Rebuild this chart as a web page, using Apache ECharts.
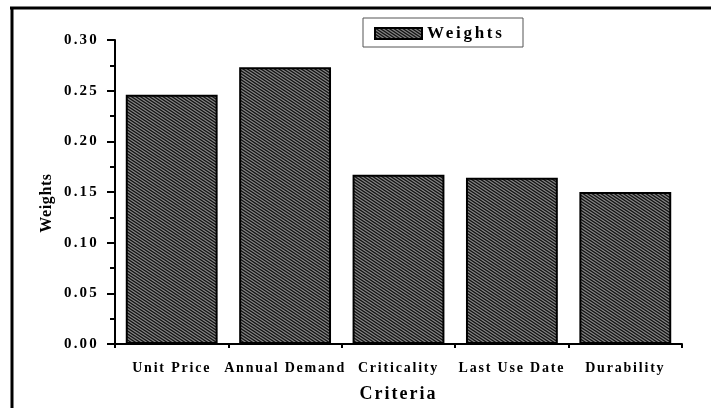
<!DOCTYPE html>
<html>
<head>
<meta charset="utf-8">
<script src="https://cdn.jsdelivr.net/npm/echarts@6/dist/echarts.min.js"></script>
<style>
  html, body { margin: 0; padding: 0; background: #fff; }
  #chart { width: 711px; height: 408px; }
</style>
</head>
<body>
<div id="chart"></div>
<script>
// data
var criteria = ['Unit Price', 'Annual Demand', 'Criticality', 'Last Use Date', 'Durability']
var weights = [0.246, 0.273, 0.167, 0.164, 0.150]
var seriesName = 'Weights'

var serif = 'Liberation Serif'

// the original prints its texts with wide letter spacing (per font size)
var spacingBySize = { '14px': '1.8px', '15px': '2.2px', '16px': '0.6px', '17px': '2.7px', '18px': '2px' }
var origFillText = CanvasRenderingContext2D.prototype.fillText
CanvasRenderingContext2D.prototype.fillText = function () {
  var f = this.font || ''
  var sp = '0px'
  for (var k in spacingBySize) {
    if (f.indexOf(k) >= 0) sp = spacingBySize[k]
  }
  this.letterSpacing = sp
  return origFillText.apply(this, arguments)
}

// hatch fill: gray with dark diagonal lines
function makeHatch() {
  var w = 9, h = 6
  var c = document.createElement('canvas')
  c.width = w
  c.height = h
  var g = c.getContext('2d')
  g.fillStyle = '#858585'
  g.fillRect(0, 0, w, h)
  g.strokeStyle = '#111'
  g.lineWidth = 1.3
  for (var k = -3; k <= 2; k++) {
    var off = k * 3
    g.beginPath()
    g.moveTo(-1, off - 2 / 3)
    g.lineTo(w + 1, off + h + 2 / 3)
    g.stroke()
  }
  return { image: c, repeat: 'repeat' }
}
var hatch = makeHatch()

var myChart = echarts.init(document.getElementById('chart'), null, { renderer: 'canvas' })

var option = {
  animation: false,
  backgroundColor: '#fff',
  grid: {
    left: 115,
    right: 29,
    top: 40,
    bottom: 57
  },
  legend: {
    left: 363,
    top: 18,
    padding: [7, 12, 5, 11],
    borderColor: '#555',
    borderWidth: 1,
    icon: 'rect',
    itemWidth: 47,
    itemHeight: 11,
    itemStyle: {
      color: hatch,
      borderColor: '#000',
      borderWidth: 2
    },
    textStyle: {
      fontFamily: serif,
      fontWeight: 'bold',
      fontSize: 17,
      color: '#000',
      width: 84,
      lineHeight: 15
    },
    data: [seriesName]
  },
  xAxis: [{
    type: 'category',
    data: criteria,
    name: 'Criteria',
    nameLocation: 'middle',
    nameGap: 41,
    nameTextStyle: {
      fontFamily: serif,
      fontWeight: 'bold',
      fontSize: 18,
      color: '#000'
    },
    axisLine: { lineStyle: { color: '#000', width: 2 } },
    axisTick: { alignWithLabel: true, length: 6, lineStyle: { color: '#000', width: 2 } },
    axisLabel: {
      interval: 0,
      margin: 17,
      fontFamily: serif,
      fontWeight: 'bold',
      fontSize: 14,
      color: '#000'
    }
  }, {
    type: 'category',
    data: criteria,
    position: 'bottom',
    axisLine: { show: false },
    axisTick: { show: true, length: 4, lineStyle: { color: '#000', width: 2 } },
    axisLabel: { show: false }
  }],
  yAxis: {
    type: 'value',
    min: 0,
    max: 0.3,
    interval: 0.05,
    name: 'Weights',
    nameLocation: 'middle',
    nameGap: 60,
    nameTextStyle: {
      fontFamily: serif,
      fontWeight: 'bold',
      fontSize: 16,
      color: '#000',
      padding: [0, 22, 0, 0]
    },
    axisLine: { show: true, lineStyle: { color: '#000', width: 2 } },
    axisTick: { show: true, length: 8, lineStyle: { color: '#000', width: 2 } },
    minorTick: { show: true, splitNumber: 2, length: 5, lineStyle: { color: '#000', width: 2 } },
    splitLine: { show: false },
    axisLabel: {
      margin: 16,
      fontFamily: serif,
      fontWeight: 'bold',
      fontSize: 15,
      color: '#000',
      formatter: function (v) { return v.toFixed(2) }
    }
  },
  series: [{
    name: seriesName,
    type: 'bar',
    barCategoryGap: '19%',
    itemStyle: {
      color: hatch,
      borderColor: '#000',
      borderWidth: 2
    },
    data: weights
  }],
  graphic: [{
    type: 'line',
    shape: { x1: 10, y1: 8, x2: 711, y2: 8 },
    style: { stroke: '#000', lineWidth: 3 }
  }, {
    type: 'line',
    shape: { x1: 12, y1: 7, x2: 12, y2: 408 },
    style: { stroke: '#000', lineWidth: 3 }
  }]
}

myChart.setOption(option)
</script>
</body>
</html>
